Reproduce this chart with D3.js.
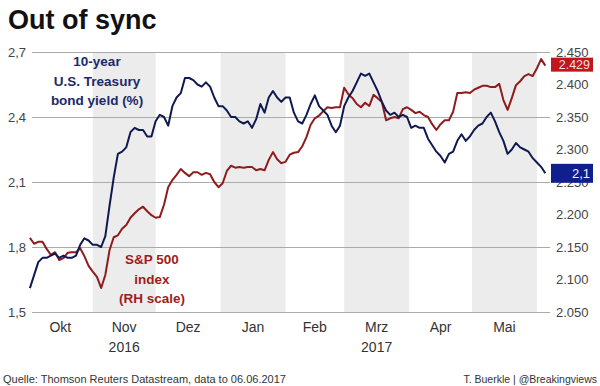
<!DOCTYPE html>
<html>
<head>
<meta charset="utf-8">
<script src="https://cdn.jsdelivr.net/npm/d3@7"></script>
<style>
body { margin: 0; background: #fff; }
svg { display: block; font-family: "Liberation Sans", Arial, sans-serif; }
</style>
</head>
<body>
<script>
// values, every second calendar day
const dates = [
  "2016-10-02","2016-10-04","2016-10-06","2016-10-08","2016-10-10","2016-10-12","2016-10-14","2016-10-16","2016-10-18","2016-10-20","2016-10-22","2016-10-24","2016-10-26","2016-10-28","2016-10-30",
  "2016-11-01","2016-11-03","2016-11-05","2016-11-07","2016-11-09","2016-11-11","2016-11-13","2016-11-15","2016-11-17","2016-11-19","2016-11-21","2016-11-23","2016-11-25","2016-11-27","2016-11-29",
  "2016-12-01","2016-12-03","2016-12-05","2016-12-07","2016-12-09","2016-12-11","2016-12-13","2016-12-15","2016-12-17","2016-12-19","2016-12-21","2016-12-23","2016-12-25","2016-12-27","2016-12-29","2016-12-31",
  "2017-01-02","2017-01-04","2017-01-06","2017-01-08","2017-01-10","2017-01-12","2017-01-14","2017-01-16","2017-01-18","2017-01-20","2017-01-22","2017-01-24","2017-01-26","2017-01-28","2017-01-30",
  "2017-02-01","2017-02-03","2017-02-05","2017-02-07","2017-02-09","2017-02-11","2017-02-13","2017-02-15","2017-02-17","2017-02-19","2017-02-21","2017-02-23","2017-02-25","2017-02-27",
  "2017-03-01","2017-03-03","2017-03-05","2017-03-07","2017-03-09","2017-03-11","2017-03-13","2017-03-15","2017-03-17","2017-03-19","2017-03-21","2017-03-23","2017-03-25","2017-03-27","2017-03-29","2017-03-31",
  "2017-04-02","2017-04-04","2017-04-06","2017-04-08","2017-04-10","2017-04-12","2017-04-14","2017-04-16","2017-04-18","2017-04-20","2017-04-22","2017-04-24","2017-04-26","2017-04-28","2017-04-30",
  "2017-05-02","2017-05-04","2017-05-06","2017-05-08","2017-05-10","2017-05-12","2017-05-14","2017-05-16","2017-05-18","2017-05-20","2017-05-22","2017-05-24","2017-05-26","2017-05-28","2017-05-30",
  "2017-06-01","2017-06-03","2017-06-05"
];

// 10-year U.S. Treasury yield, %
const yieldVals = [
  1.61,1.67,1.73,1.75,1.75,1.76,1.77,1.75,1.76,1.75,
  1.75,1.76,1.81,1.84,1.83,1.81,1.81,1.80,1.85,1.99,
  2.12,2.23,2.24,2.26,2.33,2.35,2.34,2.34,2.31,2.31,
  2.38,2.41,2.40,2.36,2.45,2.49,2.51,2.58,2.58,2.57,
  2.55,2.54,2.56,2.54,2.49,2.45,2.45,2.43,2.40,2.40,
  2.38,2.37,2.38,2.35,2.39,2.46,2.42,2.49,2.52,2.49,
  2.47,2.49,2.49,2.42,2.38,2.37,2.41,2.46,2.50,2.45,
  2.43,2.41,2.36,2.33,2.36,2.45,2.49,2.52,2.56,2.60,
  2.59,2.60,2.56,2.52,2.47,2.43,2.41,2.42,2.40,2.41,
  2.40,2.35,2.36,2.35,2.35,2.30,2.27,2.24,2.22,2.19,
  2.23,2.24,2.29,2.32,2.29,2.31,2.34,2.36,2.37,2.40,
  2.42,2.38,2.33,2.29,2.23,2.25,2.28,2.26,2.25,2.24,
  2.21,2.19,2.17,2.14
];

// S&P 500 index, points (right scale)
const spxVals = [
  2164,2155,2158,2158,2147,2138,2142,2130,2133,2141,
  2142,2142,2148,2136,2121,2112,2104,2087,2107,2145,
  2165,2168,2178,2184,2195,2202,2208,2212,2205,2199,
  2195,2196,2215,2242,2253,2261,2270,2264,2259,2265,
  2265,2261,2264,2262,2250,2242,2248,2267,2275,2272,
  2273,2272,2273,2273,2268,2270,2268,2284,2296,2285,
  2279,2281,2292,2295,2296,2305,2319,2338,2348,2352,
  2359,2365,2364,2365,2365,2395,2385,2379,2370,2365,
  2372,2367,2384,2379,2373,2345,2348,2350,2348,2362,
  2365,2361,2356,2358,2353,2350,2339,2330,2339,2345,
  2345,2358,2387,2387,2388,2387,2392,2395,2398,2398,
  2396,2396,2401,2376,2361,2379,2399,2405,2413,2416,
  2413,2425,2439,2429
];

const yieldTicks = [1.5, 1.8, 2.1, 2.4, 2.7];
const spxTicks = [2050, 2100, 2150, 2200, 2250, 2300, 2350, 2400, 2450];
const monthNames = ["Okt", "Nov", "Dez", "Jan", "Feb", "Mrz", "Apr", "Mai"];
const monthStarts = ["2016-10-01","2016-11-01","2016-12-01","2017-01-01","2017-02-01","2017-03-01","2017-04-01","2017-05-01","2017-06-01"];
const shadedMonths = ["Nov", "Jan", "Mrz", "Mai"];
const years = [["2016", "Nov"], ["2017", "Mrz"]];

const canvWidth = 600, canvHeight = 386;
const plot = {left: 32, right: 550, top: 52, bottom: 312};
const navy = "#0e1a4f", red = "#8e1b1d";

const parse = d3.timeParse("%Y-%m-%d");
const de = d3.formatLocale({decimal: ",", thousands: ".", grouping: [3], currency: ["", " €"]});

const svg = d3.select("body").append("svg")
    .attr("width", canvWidth)
    .attr("height", canvHeight);

const x = d3.scaleTime()
    .domain([parse("2016-10-03"), parse("2017-06-06")])
    .range([plot.left, 547.4]);
const yL = d3.scaleLinear().domain([1.5, 2.7]).range([plot.bottom, plot.top]);
const yR = d3.scaleLinear().domain([2050, 2450]).range([plot.bottom, plot.top]);

// grey bands for every other month
const starts = monthStarts.map(parse);
svg.append("g").selectAll("rect")
    .data(monthNames.map((m, i) => ({m, a: starts[i], b: starts[i + 1]})).filter(d => shadedMonths.includes(d.m)))
    .enter().append("rect")
    .attr("x", d => x(d.a))
    .attr("width", d => x(d.b) - x(d.a))
    .attr("y", plot.top)
    .attr("height", plot.bottom - plot.top)
    .attr("fill", "#ececec");

// left axis with gridlines
const gL = svg.append("g")
    .attr("transform", "translate(" + plot.left + ",0)")
    .call(d3.axisLeft(yL).tickValues(yieldTicks).tickSize(-(plot.right - plot.left)).tickPadding(6).tickFormat(de.format(".1f")));
gL.select(".domain").remove();
gL.selectAll("line").attr("stroke", "#aaa");
gL.selectAll("text").attr("font-size", "13px").attr("fill", "#444");
gL.attr("font-family", null).attr("font-size", null);

// right axis
const gR = svg.append("g")
    .attr("transform", "translate(" + plot.right + ",0)")
    .call(d3.axisRight(yR).tickValues(spxTicks).tickSize(0).tickPadding(6).tickFormat(de.format(",")));
gR.select(".domain").remove();
gR.selectAll("text").attr("font-size", "13px").attr("fill", "#444");
gR.attr("font-family", null).attr("font-size", null);

// month and year labels
const mid = i => (x(starts[i]) + x(starts[i + 1])) / 2;
svg.append("g").selectAll("text")
    .data(monthNames)
    .enter().append("text")
    .attr("x", (d, i) => mid(i))
    .attr("y", 332)
    .attr("text-anchor", "middle")
    .attr("font-size", "14px")
    .attr("fill", "#333")
    .text(d => d);

svg.append("g").selectAll("text")
    .data(years)
    .enter().append("text")
    .attr("x", d => mid(monthNames.indexOf(d[1])))
    .attr("y", 352)
    .attr("text-anchor", "middle")
    .attr("font-size", "14px")
    .attr("fill", "#333")
    .text(d => d[0]);

// lines
const rows = dates.map((d, i) => ({date: parse(d), yld: yieldVals[i], spx: spxVals[i]}));

svg.append("path")
    .datum(rows)
    .attr("fill", "none")
    .attr("stroke", red)
    .attr("stroke-width", 2)
    .attr("stroke-linejoin", "round")
    .attr("d", d3.line().x(d => x(d.date)).y(d => yR(d.spx)));

svg.append("path")
    .datum(rows)
    .attr("fill", "none")
    .attr("stroke", navy)
    .attr("stroke-width", 2)
    .attr("stroke-linejoin", "round")
    .attr("d", d3.line().x(d => x(d.date)).y(d => yL(d.yld)));

// end value boxes
const last = rows[rows.length - 1];
const ySpx = yR(last.spx) - 1, yYld = yL(last.yld);
svg.append("rect").attr("x", 551).attr("y", ySpx - 7).attr("width", 42).attr("height", 14).attr("fill", "#c3161c");
svg.append("text").attr("x", 590).attr("y", ySpx).attr("dy", "0.36em")
    .attr("text-anchor", "end").attr("font-size", "12.5px").attr("fill", "#f6dede")
    .text(de.format(",")(last.spx));
svg.append("rect").attr("x", 551).attr("y", yYld - 9.5).attr("width", 42).attr("height", 19).attr("fill", "#0f1f8c");
svg.append("text").attr("x", 590).attr("y", yYld).attr("dy", "0.36em")
    .attr("text-anchor", "end").attr("font-size", "13px").attr("fill", "#f2f2ff")
    .text(de.format(".1f")(last.yld));

// series labels
const label = (lines, cx, y0, color) => {
    svg.append("g").selectAll("text")
        .data(lines)
        .enter().append("text")
        .attr("x", cx)
        .attr("y", (d, i) => y0 + i * 19.5)
        .attr("text-anchor", "middle")
        .attr("font-size", "13.5px")
        .attr("font-weight", "bold")
        .attr("fill", color)
        .text(d => d);
};
label(["10-year", "U.S. Treasury", "bond yield (%)"], 97, 66, "#1b2a6b");
label(["S&P 500", "index", "(RH scale)"], 152, 264, "#a01c20");

// title
svg.append("text")
    .attr("x", 8)
    .attr("y", 29)
    .attr("font-size", "27px")
    .attr("font-weight", "bold")
    .attr("fill", "#111")
    .text("Out of sync");

// footer
svg.append("text")
    .attr("x", 3).attr("y", 383)
    .attr("font-size", "11px").attr("fill", "#333")
    .text("Quelle: Thomson Reuters Datastream, data to 06.06.2017");
svg.append("text")
    .attr("x", 597).attr("y", 383)
    .attr("text-anchor", "end")
    .attr("font-size", "10.5px").attr("fill", "#333")
    .text("T. Buerkle | @Breakingviews");
</script>
</body>
</html>
